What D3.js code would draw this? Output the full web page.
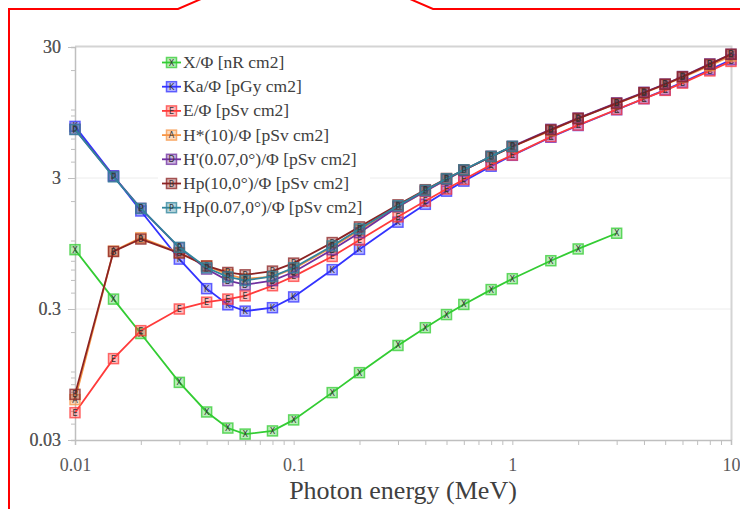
<!DOCTYPE html>
<html>
<head>
<meta charset="utf-8">
<script src="https://cdn.jsdelivr.net/npm/d3@7"></script>
<style>
  body { margin: 0; background: #fff; }
  svg { display: block; }
</style>
</head>
<body>
<script>
// photon energies (MeV)
let energy = [0.01, 0.015, 0.02, 0.03, 0.04, 0.05, 0.06, 0.08, 0.1, 0.15, 0.2, 0.3, 0.4,
  0.5, 0.6, 0.8, 1, 1.5, 2, 3, 4, 5, 6, 8, 10]

// conversion coefficients per fluence
let exposure = [0.851, 0.357, 0.195, 0.0826, 0.0491, 0.0370, 0.0333, 0.0352, 0.0427, 0.0690,
  0.098, 0.158, 0.216, 0.272, 0.325, 0.422, 0.511, 0.701, 0.862, 1.136]
let kerma = [7.43, 3.12, 1.68, 0.721, 0.429, 0.323, 0.289, 0.307, 0.371, 0.599, 0.856, 1.38,
  1.89, 2.38, 2.84, 3.69, 4.47, 6.14, 7.55, 9.96, 12.1, 14.1, 16.1, 20.1, 24.0]
let effective = [0.0485, 0.1254, 0.205, 0.2999, 0.3381, 0.3572, 0.378, 0.4516, 0.5328, 0.7551,
  1.008, 1.516, 2.0, 2.47, 2.925, 3.79, 4.49, 6.2, 7.6, 10.0, 12.1, 14.0, 15.9, 19.7, 23.3]
let hStar10 = [0.061, 0.83, 1.05, 0.81, 0.64, 0.55, 0.51, 0.53, 0.61, 0.89, 1.20, 1.80, 2.38,
  2.93, 3.44, 4.38, 5.20, 6.90, 8.60, 11.1, 13.4, 15.5, 17.6, 21.6, 25.6]
let hPrime007 = [7.06, 3.09, 1.76, 0.88, 0.605, 0.494, 0.46, 0.494, 0.575, 0.851, 1.147, 1.808,
  2.381, 2.927, 3.436, 4.391, 5.23, 7.06, 8.61, 11.25, 13.55, 15.65, 17.87, 22.31, 26.4]
let hp10 = [0.0669, 0.824, 1.026, 0.802, 0.639, 0.570, 0.547, 0.584, 0.672, 0.964, 1.27, 1.871,
  2.442, 2.975, 3.451, 4.365, 5.199, 6.987, 8.509, 11.125, 13.43, 15.59, 17.76, 22.11, 26.4]
let hp007 = [7.036, 3.061, 1.756, 0.887, 0.619, 0.527, 0.496, 0.532, 0.619, 0.909, 1.226, 1.844,
  2.419, 2.961, 3.465, 4.387, 5.243]

let seriesNames = ['X/Φ  [nR cm2]', 'Ka/Φ [pGy cm2]', 'E/Φ [pSv cm2]', 'H*(10)/Φ [pSv cm2]',
  'H\'(0.07,0°)/Φ [pSv cm2]', 'Hp(10,0°)/Φ [pSv cm2]', 'Hp(0.07,0°)/Φ [pSv cm2]']
let seriesValues = [exposure, kerma, effective, hStar10, hPrime007, hp10, hp007]
let seriesColors = ['#33cc33', '#3333ff', '#ff3b3b', '#f79646', '#7030a0', '#8b2323', '#31859c']
let seriesLetters = ['X', 'K', 'E', 'A', 'D', 'B', 'P']

let xTicks = [0.01, 0.1, 1, 10]
let yTicks = [0.03, 0.3, 3, 30]

// measurements
let m = {
  width: 740,
  height: 509,
  left: 75,
  right: 731,
  top: 47,
  bottom: 440,
  font: '"Liberation Serif", "DejaVu Serif", serif',
}

let svg = d3.select('body')
  .append('svg')
  .attr('width', m.width)
  .attr('height', m.height)

let xScale = d3.scaleLog().domain([0.01, 10]).range([m.left, m.right])
let yScale = d3.scaleLog().domain([0.03, 30]).range([m.bottom, m.top])

// red callout frame
svg.append('polyline')
  .attr('points', '9,509 9,9 178,9 201,-1')
  .attr('fill', 'none').attr('stroke', '#ff0000').attr('stroke-width', 2)
svg.append('polyline')
  .attr('points', '410,-1 433,9 741,9')
  .attr('fill', 'none').attr('stroke', '#ff0000').attr('stroke-width', 2)

// gridlines
svg.append('g').selectAll('line')
  .data(yTicks.slice(1, 3))
  .enter().append('line')
    .attr('x1', m.left).attr('x2', m.right)
    .attr('y1', function(d) { return yScale(d) })
    .attr('y2', function(d) { return yScale(d) })
    .attr('stroke', '#ececec').attr('stroke-width', 1)

// plot border (top + right)
svg.append('path')
  .attr('d', 'M' + m.left + ',' + (m.top - 0.5) + 'H' + (m.right + 0.5) + 'V' + m.bottom)
  .attr('fill', 'none').attr('stroke', '#d4d4d4').attr('stroke-width', 2)

// axes
let xAxis = d3.axisBottom(xScale)
  .tickValues(xScale.ticks())
  .tickSize(5)
  .tickFormat(function(d) { return xTicks.indexOf(d) >= 0 ? d3.format('~g')(d) : '' })

let yAxis = d3.axisLeft(yScale)
  .tickValues(yScale.ticks().concat([0.03, 0.3, 3, 30]))
  .tickSize(4)
  .tickFormat(function(d) { return yTicks.indexOf(d) >= 0 ? d3.format('~g')(d) : '' })

let gx = svg.append('g')
  .attr('transform', 'translate(0,' + m.bottom + ')')
  .call(xAxis)
let gy = svg.append('g')
  .attr('transform', 'translate(' + m.left + ',0)')
  .call(yAxis)

;[gx, gy].forEach(function(g) {
  g.select('.domain').attr('stroke', '#bfbfbf').attr('stroke-width', 1.5)
  g.selectAll('.tick line').attr('stroke', '#bfbfbf')
  g.selectAll('.tick text')
    .attr('fill', '#595959')
    .style('font-family', m.font)
    .style('font-size', '18px')
})
gx.selectAll('.tick text').attr('dy', '1.25em')
gy.selectAll('.tick text').attr('x', -14)
gy.selectAll('.tick').filter(function(d) { return yTicks.indexOf(d) >= 0 })
  .select('line').attr('x2', -7)

svg.append('text')
  .attr('x', 403)
  .attr('y', 499)
  .attr('text-anchor', 'middle')
  .attr('fill', '#404040')
  .style('font-family', m.font)
  .style('font-size', '26px')
  .text('Photon energy (MeV)')

// marker helper
function drawMarker(g, cx, cy, color, letter) {
  g.append('rect')
    .attr('x', cx - 5).attr('y', cy - 5)
    .attr('width', 10).attr('height', 10)
    .attr('fill', color).attr('fill-opacity', 0.35)
    .attr('stroke', color).attr('stroke-opacity', 0.75).attr('stroke-width', 1.5)
  g.append('text')
    .attr('x', cx).attr('y', cy + 3)
    .attr('text-anchor', 'middle')
    .attr('fill', '#333')
    .style('font-family', 'DejaVu Sans, sans-serif')
    .style('font-size', '8px')
    .text(letter)
}

let line = d3.line()
  .x(function(d) { return xScale(d[0]) })
  .y(function(d) { return yScale(d[1]) })

seriesValues.forEach(function(vals, i) {
  let pts = vals.map(function(v, j) { return [energy[j], v] })
  let g = svg.append('g')
  g.append('path')
    .datum(pts)
    .attr('d', line)
    .attr('fill', 'none')
    .attr('stroke', seriesColors[i])
    .attr('stroke-width', 1.8)
  pts.forEach(function(p) {
    drawMarker(g, xScale(p[0]), yScale(p[1]), seriesColors[i], seriesLetters[i])
  })
})

// legend
let legend = svg.append('g')
legend.append('rect')
  .attr('x', 158).attr('y', 50)
  .attr('width', 212).attr('height', 168)
  .attr('fill', '#fff')
seriesNames.forEach(function(name, i) {
  let ly = 62.5 + i * 24.2
  legend.append('line')
    .attr('x1', 162).attr('x2', 181)
    .attr('y1', ly).attr('y2', ly)
    .attr('stroke', seriesColors[i]).attr('stroke-width', 1.8)
  drawMarker(legend, 171.5, ly, seriesColors[i], seriesLetters[i])
  legend.append('text')
    .attr('x', 183)
    .attr('y', ly + 5.5)
    .attr('fill', '#404040')
    .style('font-family', m.font)
    .style('font-size', '17.5px')
    .text(name)
})
</script>
</body>
</html>
